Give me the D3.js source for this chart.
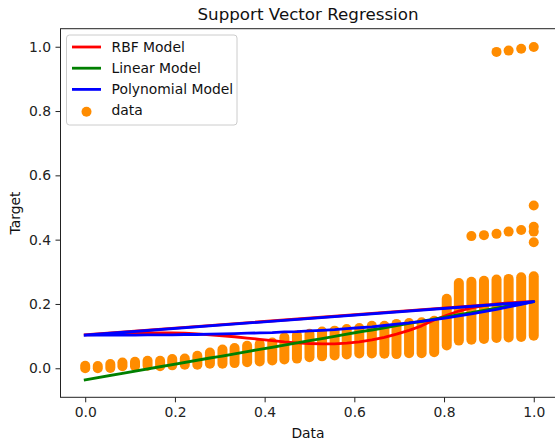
<!DOCTYPE html>
<html>
<head>
<meta charset="utf-8">
<script src="https://cdn.jsdelivr.net/npm/d3@7"></script>
<style>
  html, body { margin: 0; padding: 0; background: #fff; }
  svg { display: block; font-family: "DejaVu Sans", sans-serif; }
</style>
</head>
<body>
<svg id="chart" width="555" height="442"></svg>
<script>
// ---- data ----
const xValues = [0.000,0.028,0.056,0.083,0.111,0.139,0.167,0.194,0.222,0.250,0.278,0.306,0.333,0.361,0.389,0.417,0.444,0.472,0.500,0.528,0.556,0.583,0.611,0.639,0.667,0.694,0.722,0.750,0.778,0.806,0.833,0.861,0.889,0.917,0.944,0.972,1.000];
// vertical extent of the stacked data points in each column
const colLow  = [0.000,0.000,0.001,0.006,0.006,0.008,0.006,0.009,0.011,0.011,0.014,0.014,0.016,0.019,0.021,0.024,0.027,0.030,0.034,0.037,0.040,0.043,0.046,0.046,0.045,0.044,0.047,0.047,0.050,0.071,0.086,0.089,0.091,0.094,0.096,0.097,0.101];
const colHigh = [0.008,0.007,0.013,0.018,0.020,0.023,0.023,0.029,0.030,0.039,0.049,0.058,0.063,0.070,0.075,0.080,0.096,0.103,0.107,0.114,0.117,0.122,0.125,0.132,0.132,0.138,0.141,0.143,0.148,0.216,0.265,0.269,0.272,0.276,0.278,0.283,0.286];
// isolated data points
const outX = [0.917,0.944,0.972,1.000,0.861,0.889,0.917,0.944,0.972,1.000,1.000,1.000,1.000];
const outY = [0.984,0.988,0.994,0.999,0.411,0.414,0.418,0.425,0.430,0.506,0.440,0.425,0.392];
// model predictions at each x
const rbfPred  = [0.104,0.105,0.107,0.108,0.109,0.110,0.110,0.110,0.109,0.107,0.104,0.101,0.098,0.094,0.090,0.086,0.082,0.079,0.077,0.076,0.076,0.078,0.082,0.088,0.096,0.106,0.118,0.132,0.150,0.165,0.178,0.188,0.195,0.200,0.203,0.206,0.208];
const linPred  = [-0.036,-0.029,-0.022,-0.016,-0.009,-0.002,0.005,0.011,0.018,0.025,0.032,0.038,0.045,0.052,0.059,0.065,0.072,0.079,0.086,0.092,0.099,0.106,0.113,0.119,0.126,0.133,0.140,0.146,0.153,0.160,0.167,0.173,0.180,0.187,0.194,0.200,0.207];
const polyPred = [0.103,0.103,0.103,0.103,0.103,0.104,0.104,0.104,0.105,0.105,0.106,0.107,0.108,0.109,0.110,0.111,0.113,0.114,0.116,0.118,0.120,0.123,0.126,0.129,0.133,0.137,0.141,0.146,0.151,0.157,0.163,0.169,0.176,0.183,0.191,0.199,0.207];
const xTicks = [0.0,0.2,0.4,0.6,0.8,1.0];
const yTicks = [0.0,0.2,0.4,0.6,0.8,1.0];
const models = [
  {name: "RBF Model", values: rbfPred, color: "#ff0000"},
  {name: "Linear Model", values: linPred, color: "#008000"},
  {name: "Polynomial Model", values: polyPred, color: "#0000ff"}
];

// ---- layout ----
const plot = {left: 60.5, right: 556, top: 28.7, bottom: 397.3};
const x = d3.scaleLinear().domain([-0.0551, 1.0496]).range([plot.left, plot.right]);
const y = d3.scaleLinear().domain([-0.0903, 1.0561]).range([plot.bottom, plot.top]);
const r = 5;
const orange = "#ff8c00";
const fs = 13.9;

const svg = d3.select("#chart");
svg.append("rect").attr("width",555).attr("height",442).attr("fill","#fff");

svg.append("defs").append("clipPath").attr("id","clip")
  .append("rect").attr("x",plot.left).attr("y",plot.top)
  .attr("width",plot.right-plot.left).attr("height",plot.bottom-plot.top);

const g = svg.append("g").attr("clip-path","url(#clip)");

// scatter columns (stacked points)
const cols = xValues.map((v,i)=>({x:v, lo:colLow[i], hi:colHigh[i]}));
g.append("g").selectAll("line").data(cols).join("line")
  .attr("x1",d=>x(d.x)).attr("x2",d=>x(d.x))
  .attr("y1",d=>y(d.lo)).attr("y2",d=>y(d.hi))
  .attr("stroke",orange).attr("stroke-width",2*r).attr("stroke-linecap","round");
g.append("g").selectAll("circle").data(outX.map((v,i)=>({x:v,y:outY[i]}))).join("circle")
  .attr("cx",d=>x(d.x)).attr("cy",d=>y(d.y)).attr("r",r).attr("fill",orange);

// model lines: drawn in data order, which returns from the last x to the first
const line = d3.line().x(d=>x(d[0])).y(d=>y(d[1]));
models.forEach(m=>{
  const pts = xValues.map((v,i)=>[v, m.values[i]]);
  pts.push(pts[0]);
  g.append("path").attr("d",line(pts)).attr("fill","none")
    .attr("stroke",m.color).attr("stroke-width",2.8)
    .attr("stroke-linejoin","round").attr("stroke-linecap","square");
});

// axes
const xAxis = svg.append("g").attr("transform",`translate(0,${plot.bottom})`)
  .call(d3.axisBottom(x).tickValues(xTicks).tickFormat(d3.format(".1f")).tickSize(5).tickPadding(4.5));
const yAxis = svg.append("g").attr("transform",`translate(${plot.left},0)`)
  .call(d3.axisLeft(y).tickValues(yTicks).tickFormat(d3.format(".1f")).tickSize(5).tickPadding(4.5));
[xAxis,yAxis].forEach(a=>{
  a.select(".domain").remove();
  a.selectAll("text").attr("font-size",fs).attr("fill","#222").attr("font-family","DejaVu Sans");
  a.selectAll("line").attr("stroke","#222").attr("stroke-width",1);
});
// spines
svg.append("rect").attr("x",plot.left).attr("y",plot.top)
  .attr("width",plot.right-plot.left).attr("height",plot.bottom-plot.top)
  .attr("fill","none").attr("stroke","#222").attr("stroke-width",1);

// labels
svg.append("text").attr("x",308).attr("y",20)
  .attr("text-anchor","middle").attr("font-size",16.7).attr("fill","#111")
  .text("Support Vector Regression");
svg.append("text").attr("x",308).attr("y",437.5)
  .attr("text-anchor","middle").attr("font-size",fs).attr("fill","#111").text("Data");
svg.append("text").attr("transform",`translate(19.5,${(plot.top+plot.bottom)/2}) rotate(-90)`)
  .attr("text-anchor","middle").attr("font-size",fs).attr("fill","#111").text("Target");

// legend
const leg = svg.append("g");
leg.append("rect").attr("x",66.5).attr("y",35).attr("width",170.5).attr("height",90)
  .attr("rx",3).attr("fill","#fff").attr("fill-opacity",0.8)
  .attr("stroke","#cccccc").attr("stroke-width",1);
const entries = models.map(m=>({name:m.name, color:m.color, type:"line"}))
  .concat([{name:"data", color:orange, type:"dot"}]);
entries.forEach((e,i)=>{
  const cy = 47 + i*21.2;
  if (e.type==="line") {
    leg.append("line").attr("x1",72).attr("x2",101).attr("y1",cy).attr("y2",cy)
      .attr("stroke",e.color).attr("stroke-width",2.8);
  } else {
    leg.append("circle").attr("cx",86.5).attr("cy",cy+1.2).attr("r",r).attr("fill",e.color);
  }
  leg.append("text").attr("x",111.5).attr("y",cy).attr("dy","0.35em")
    .attr("font-size",fs).attr("fill","#111").text(e.name);
});
</script>
</body>
</html>
